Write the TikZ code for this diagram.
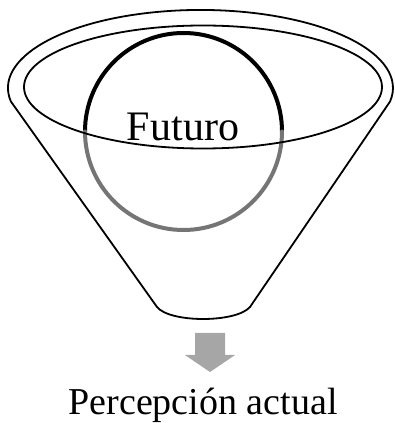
\documentclass[tikz,border=0pt]{standalone}
\usepackage{fontspec}
\setmainfont{Liberation Serif}
\usetikzlibrary{calc}
\definecolor{lensgray}{HTML}{757575}
\definecolor{arrowgray}{HTML}{A6A6A6}

\begin{document}
\begin{tikzpicture}[x=1pt,y=1pt,line cap=round,line join=round]
  \useasboundingbox (0,0) rectangle (394,423);
  % circle, upper half black and lower half gray
  \draw[line width=4pt] (85,291.5) arc[start angle=180,end angle=0,radius=98.5];
  \draw[lensgray,line width=4pt] (85,291.5) arc[start angle=180,end angle=360,radius=98.5];
  \node[font=\fontsize{42}{42}\selectfont,anchor=base,inner sep=0pt] (futuro) at (183,282) {Futuro};
  % funnel
  \draw[line width=1.8pt] (157,116) -- (10.9,321.5)
    arc[start angle=190,end angle=-10,x radius=192.5,y radius=78]
    -- (250,116) .. controls (236,100) and (170,100) .. cycle;
  \draw[line width=1.8pt] (203,336) ellipse[x radius=179,y radius=61.5];
  % arrow
  \fill[arrowgray] (195,90) -- (225,90) -- (225,68) -- (235,68) -- (210,51) -- (185,68) -- (195,68) -- cycle;
  \node[font=\fontsize{38}{38}\selectfont,anchor=base,inner sep=0pt] (percepcion) at (203,9) {Percepción actual};
\end{tikzpicture}
\end{document}
